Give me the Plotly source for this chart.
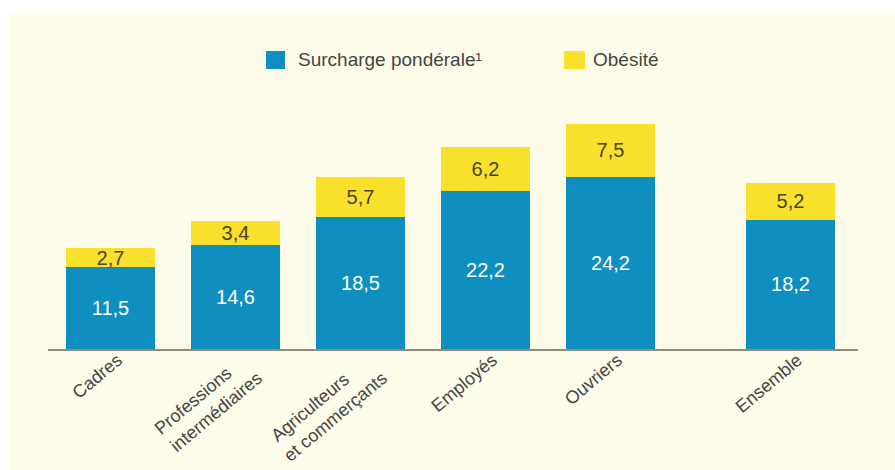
import plotly.graph_objects as go

NB = "\u00a0"
# two-line labels are left-aligned in the original; trailing no-break spaces emulate that
categories = ["Cadres", "Professions" + NB * 4 + "<br>intermédiaires",
              "Agriculteurs" + NB * 6 + "<br>et commerçants",
              "Employés", "Ouvriers", "Ensemble"]
surcharge = [11.5, 14.6, 18.5, 22.2, 24.2, 18.2]
obesite = [2.7, 3.4, 5.7, 6.2, 7.5, 5.2]
series_names = ["Surcharge pondérale¹", "Obésité"]

BLUE = "#0F8EC0"
YELLOW = "#F9E02B"
CREAM = "#FDFBEA"
TEXT = "#454545"

# layout positions: the "Ensemble" bar is set apart with a gap
gap = 0.44
xpos = [i for i in range(len(categories) - 1)] + [len(categories) - 1 + gap]

def fmt(v):
    return f"{v:.1f}".replace(".", ",")

VAL_FONT = "Liberation Sans, Arial, sans-serif"
LBL_FONT = "Liberation Sans, Arial, sans-serif"

fig = go.Figure()
fig.add_trace(go.Bar(
    x=xpos, y=surcharge, name=series_names[0], marker=dict(color=BLUE, line=dict(width=0)),
    width=0.712, text=[fmt(v) for v in surcharge], textposition="inside",
    insidetextanchor="middle", constraintext="none",
    textfont=dict(color="white", size=20, family=VAL_FONT), showlegend=False,
))
fig.add_trace(go.Bar(
    x=xpos, y=obesite, name=series_names[1], marker=dict(color=YELLOW, line=dict(width=0)),
    width=0.712, text=[fmt(v) for v in obesite], textposition="inside",
    insidetextanchor="middle", constraintext="none",
    textfont=dict(color="#4A4528", size=20, family=VAL_FONT), showlegend=False,
))

W, H = 895, 470
ml, mr, mt, mb = 48, 37, 98, 121
pw, ph = W - ml - mr, H - mt - mb

def px_x(p):
    return (p - ml) / pw

def px_y(p):
    return (H - mb - p) / ph

shapes = [
    dict(type="rect", xref="paper", yref="paper", x0=px_x(9), x1=px_x(W + 5),
         y0=px_y(H + 5), y1=px_y(13), fillcolor=CREAM, line=dict(width=0), layer="below"),
    dict(type="rect", xref="paper", yref="paper", x0=px_x(266), x1=px_x(285),
         y0=px_y(69), y1=px_y(51), fillcolor=BLUE, line=dict(width=0)),
    dict(type="rect", xref="paper", yref="paper", x0=px_x(564), x1=px_x(585),
         y0=px_y(69), y1=px_y(51), fillcolor=YELLOW, line=dict(width=0)),
]
annotations = [
    dict(xref="paper", yref="paper", x=px_x(296), y=px_y(60), text="Surcharge pondérale¹",
         showarrow=False, xanchor="left", yanchor="middle",
         font=dict(family=LBL_FONT, size=19, color=TEXT)),
    dict(xref="paper", yref="paper", x=px_x(591), y=px_y(60), text="Obésité",
         showarrow=False, xanchor="left", yanchor="middle",
         font=dict(family=LBL_FONT, size=19, color=TEXT)),
]

fig.update_layout(
    width=W, height=H, barmode="stack",
    paper_bgcolor="white", plot_bgcolor=CREAM,
    margin=dict(l=ml, r=mr, t=mt, b=mb, pad=0, autoexpand=False),
    shapes=shapes, annotations=annotations,
    xaxis=dict(range=[-0.5, len(categories) - 1 + gap + 0.54], tickmode="array",
               tickvals=xpos, ticktext=categories, tickangle=-40, automargin=False,
               showline=True, linecolor="#8C8C84", linewidth=1.5, ticks="",
               ticklabelstandoff=-8, ticklabelshift=7,
               showgrid=False, zeroline=False,
               tickfont=dict(family=LBL_FONT, size=18, color=TEXT)),
    yaxis=dict(range=[0, 35.3], visible=False, showgrid=False, zeroline=False, automargin=False),
    uniformtext=dict(mode=False),
)

fig.write_html("out.html")
